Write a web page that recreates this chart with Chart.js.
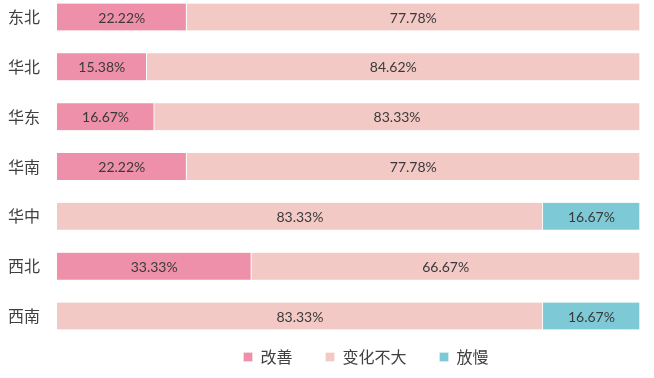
<!DOCTYPE html>
<html>
<head>
<meta charset="utf-8">
<script src="https://cdn.jsdelivr.net/npm/chart.js@4/dist/chart.umd.min.js"></script>
<style>
  html, body { margin: 0; padding: 0; background: #fff; }
  #wrap { width: 654px; height: 378px; }
</style>
</head>
<body>
<div id="wrap"><canvas id="chart"></canvas></div>
<script>
// regions and shares (%)
const regions = ['东北', '华北', '华东', '华南', '华中', '西北', '西南'];
const improved = [22.22, 15.38, 16.67, 22.22, 0, 33.33, 0];
const unchanged = [77.78, 84.62, 83.33, 77.78, 83.33, 66.67, 83.33];
const slower = [0, 0, 0, 0, 16.67, 0, 16.67];
const seriesNames = ['改善', '变化不大', '放慢'];

const textColor = '#404040';
const fontFamily = '"Microsoft YaHei", "Noto Sans CJK SC", "Noto Sans", sans-serif';

// draws the percentage in the middle of each segment
const segmentLabels = {
    id: 'segmentLabels',
    afterLayout(chart) {
        // legend in the reference sits a bit right of centre
        if (chart.legend) {
            chart.legend.left += 42;
            chart.legend.right += 42;
        }
    },
    afterDatasetsDraw(chart) {
        const ctx = chart.ctx;
        ctx.save();
        ctx.font = '14px "Lato", "Noto Sans", sans-serif';
        ctx.fillStyle = '#3a3a3a';
        ctx.textAlign = 'center';
        ctx.textBaseline = 'middle';
        chart.data.datasets.forEach((ds, i) => {
            const meta = chart.getDatasetMeta(i);
            meta.data.forEach((bar, j) => {
                const v = ds.data[j];
                if (!v) return;
                const p = bar.getCenterPoint();
                ctx.fillText(v.toFixed(2) + '%', p.x, p.y + 1);
            });
        });
        ctx.restore();
    }
};

function makeSet(label, data, color) {
    return {
        label: label,
        data: data.map(v => v === 0 ? null : v),
        backgroundColor: color,
        borderColor: '#ffffff',
        borderWidth: { left: 0, right: 1, top: 0, bottom: 0 },
        borderSkipped: false,
        barThickness: 27,
        clip: false
    };
}

new Chart(document.getElementById('chart'), {
    type: 'bar',
    data: {
        labels: regions,
        datasets: [
            makeSet(seriesNames[0], improved, '#ee90a9'),
            makeSet(seriesNames[1], unchanged, '#f2c9c4'),
            makeSet(seriesNames[2], slower, '#7dcad6')
        ]
    },
    options: {
        indexAxis: 'y',
        responsive: true,
        maintainAspectRatio: false,
        animation: false,
        layout: { padding: { left: 8, right: 14, top: 17, bottom: 3 } },
        scales: {
            x: {
                stacked: true,
                min: 0,
                max: 100,
                display: false
            },
            y: {
                stacked: true,
                offset: false,
                grid: { display: false, drawTicks: false },
                border: { display: false },
                ticks: {
                    color: textColor,
                    padding: 17,
                    font: { family: fontFamily, size: 16 }
                },
                afterFit(scale) {
                    scale.width = 49;
                    scale.paddingTop = 0;
                }
            }
        },
        plugins: {
            legend: {
                position: 'bottom',
                labels: {
                    color: textColor,
                    boxWidth: 9,
                    boxHeight: 9,
                    padding: 33,
                    font: { family: fontFamily, size: 16 }
                }
            },
            tooltip: { enabled: false }
        }
    },
    plugins: [segmentLabels]
});
</script>
</body>
</html>
